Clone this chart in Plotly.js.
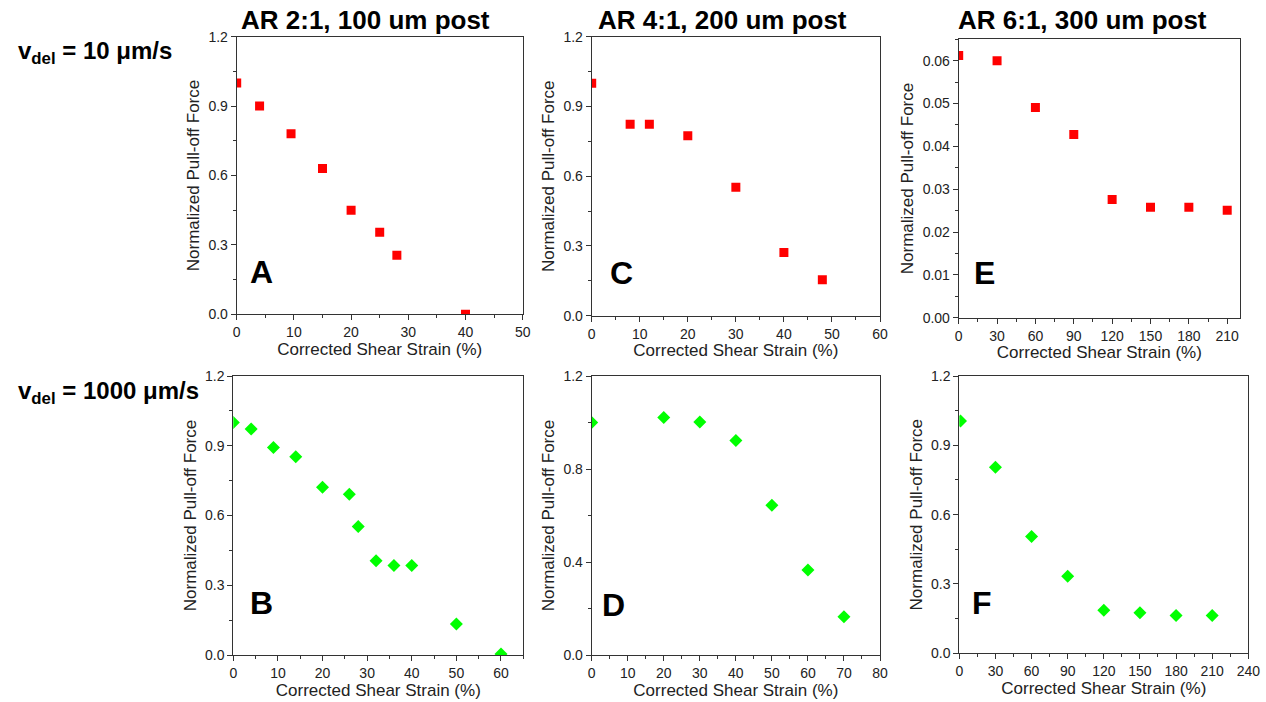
<!DOCTYPE html>
<html><head><meta charset="utf-8">
<script src="https://cdn.plot.ly/plotly-3.0.1.min.js"></script>
<style>html,body{margin:0;padding:0;background:#fff}#chart{width:1266px;height:702px}</style>
</head><body><div id="chart"></div>
<script>
// Panel A: AR 2:1, v=10
const strainA = [0, 4, 9.5, 15, 20, 25, 28, 40];
const forceA  = [1.0, 0.90, 0.78, 0.63, 0.45, 0.355, 0.255, 0.0];
// Panel C: AR 4:1, v=10
const strainC = [0, 8, 12, 20, 30, 40, 48];
const forceC  = [1.0, 0.823, 0.823, 0.774, 0.552, 0.272, 0.155];
// Panel E: AR 6:1, v=10
const strainE = [0, 30, 60, 90, 120, 150, 180, 210];
const forceE  = [0.0612, 0.0600, 0.0491, 0.0428, 0.0276, 0.0258, 0.0258, 0.0251];
// Panel B: AR 2:1, v=1000
const strainB = [0, 4, 9, 14, 20, 26, 28, 32, 36, 40, 50, 60];
const forceB  = [1.0, 0.972, 0.893, 0.853, 0.721, 0.691, 0.553, 0.405, 0.385, 0.385, 0.133, 0.004];
// Panel D: AR 4:1, v=1000
const strainD = [0, 20, 30, 40, 50, 60, 70];
const forceD  = [1.0, 1.022, 1.002, 0.923, 0.644, 0.366, 0.165];
// Panel F: AR 6:1, v=1000
const strainF = [1, 30, 60, 90, 120, 150, 180, 210];
const forceF  = [1.005, 0.805, 0.505, 0.333, 0.186, 0.175, 0.164, 0.164];

const colTitles = ["AR 2:1, 100 um post", "AR 4:1, 200 um post", "AR 6:1, 300 um post"];
const rowLabels = ["v<sub>del</sub> = 10 \u03bcm/s", "v<sub>del</sub> = 1000 \u03bcm/s"];
const panelLetters = ["A", "B", "C", "D", "E", "F"];
const xTitle = "Corrected Shear Strain (%)";
const yTitle = "Normalized Pull-off Force";

const FONT = "Liberation Sans, Arial, sans-serif";
const red = {symbol: 'square', size: 9, color: '#ff0000'};
const green = {symbol: 'diamond', size: 10, color: '#00ff00'};

const traces = [
  {x: strainA, y: forceA, xaxis: 'x', yaxis: 'y', marker: red},
  {x: strainB, y: forceB, xaxis: 'x2', yaxis: 'y2', marker: green},
  {x: strainC, y: forceC, xaxis: 'x3', yaxis: 'y3', marker: red},
  {x: strainD, y: forceD, xaxis: 'x4', yaxis: 'y4', marker: green},
  {x: strainE, y: forceE, xaxis: 'x5', yaxis: 'y5', marker: red},
  {x: strainF, y: forceF, xaxis: 'x6', yaxis: 'y6', marker: green}
].map(t => Object.assign({type: 'scatter', mode: 'markers', showlegend: false, hoverinfo: 'x+y'}, t));

function xa(domain, range, dtick, minor, anchor) {
  return {domain, range, dtick, tick0: 0, anchor, showgrid: false, zeroline: false,
    showline: true, linecolor: '#333', linewidth: 1, mirror: true,
    ticks: 'outside', ticklen: 5, tickcolor: '#333',
    minor: {dtick: minor, ticks: 'outside', ticklen: 3, tickcolor: '#333', showgrid: false},
    tickfont: {family: FONT, size: 14, color: '#222'},
    title: {text: xTitle, font: {family: FONT, size: 17, color: '#222'}, standoff: 3},
    fixedrange: true};
}
function ya(domain, range, dtick, minor, anchor, fmt) {
  return {domain, range, dtick, tick0: 0, anchor, showgrid: false, zeroline: false,
    showline: true, linecolor: '#333', linewidth: 1, mirror: true,
    ticks: 'outside', ticklen: 5, tickcolor: '#333', tickformat: fmt,
    minor: {dtick: minor, ticks: 'outside', ticklen: 3, tickcolor: '#333', showgrid: false},
    tickfont: {family: FONT, size: 14, color: '#222'},
    title: {text: yTitle, font: {family: FONT, size: 17, color: '#222'}, standoff: 4},
    fixedrange: true};
}

const W = 1266, H = 702;
const px = (a, b) => [a / W, b / W];
const py = (top, bot) => [1 - bot / H, 1 - top / H];

const layout = {
  width: W, height: H, margin: {l: 0, r: 0, t: 0, b: 0},
  paper_bgcolor: '#fff', plot_bgcolor: '#fff', showlegend: false,
  xaxis:  xa(px(236.7, 522.7), [0, 50], 10, 5, 'y'),
  yaxis:  ya(py(36.7, 314.3), [0, 1.2], 0.3, 0.15, 'x', '.1f'),
  xaxis2: xa(px(233.3, 523.3), [0, 65], 10, 5, 'y2'),
  yaxis2: ya(py(376, 655), [0, 1.2], 0.3, 0.15, 'x2', '.1f'),
  xaxis3: xa(px(591.7, 880), [0, 60], 10, 5, 'y3'),
  yaxis3: ya(py(36.7, 315.7), [0, 1.2], 0.3, 0.15, 'x3', '.1f'),
  xaxis4: xa(px(591.7, 880), [0, 80], 10, 5, 'y4'),
  yaxis4: ya(py(376, 655), [0, 1.2], 0.4, 0.2, 'x4', '.1f'),
  xaxis5: xa(px(958.7, 1240), [0, 220], 30, 15, 'y5'),
  yaxis5: ya(py(39.3, 317.7), [0, 0.065], 0.01, 0.005, 'x5', '.2f'),
  xaxis6: xa(px(959.3, 1248.3), [0, 240], 30, 15, 'y6'),
  yaxis6: ya(py(376, 653.3), [0, 1.2], 0.3, 0.15, 'x6', '.1f'),
  annotations: []
};

// Column titles
const titleX = [365, 722, 1082];
colTitles.forEach((t, i) => layout.annotations.push({
  text: '<b>' + t + '</b>', xref: 'paper', yref: 'paper', x: titleX[i] / W, y: 1 - 20 / H,
  xanchor: 'center', yanchor: 'middle', showarrow: false,
  font: {family: FONT, size: 26, color: '#000'}
}));
// Row labels
const rowY = [52, 392];
rowLabels.forEach((t, i) => layout.annotations.push({
  text: '<b>' + t + '</b>', xref: 'paper', yref: 'paper', x: 16 / W, y: 1 - rowY[i] / H,
  xanchor: 'left', yanchor: 'middle', showarrow: false,
  font: {family: FONT, size: 24, color: '#000'}
}));
// Panel letters
const letterPos = [[0.085, 0.152], [0.098, 0.186], [0.104, 0.152], [0.075, 0.18], [0.09, 0.16], [0.077, 0.18]];
const axNames = ['', '2', '3', '4', '5', '6'];
panelLetters.forEach((L, i) => layout.annotations.push({
  text: '<b>' + L + '</b>', xref: 'x' + axNames[i] + ' domain', yref: 'y' + axNames[i] + ' domain',
  x: letterPos[i][0], y: letterPos[i][1], xanchor: 'center', yanchor: 'middle', showarrow: false,
  font: {family: FONT, size: 32, color: '#000'}
}));

Plotly.newPlot('chart', traces, layout, {staticPlot: true, displayModeBar: false});
</script>
</body></html>
